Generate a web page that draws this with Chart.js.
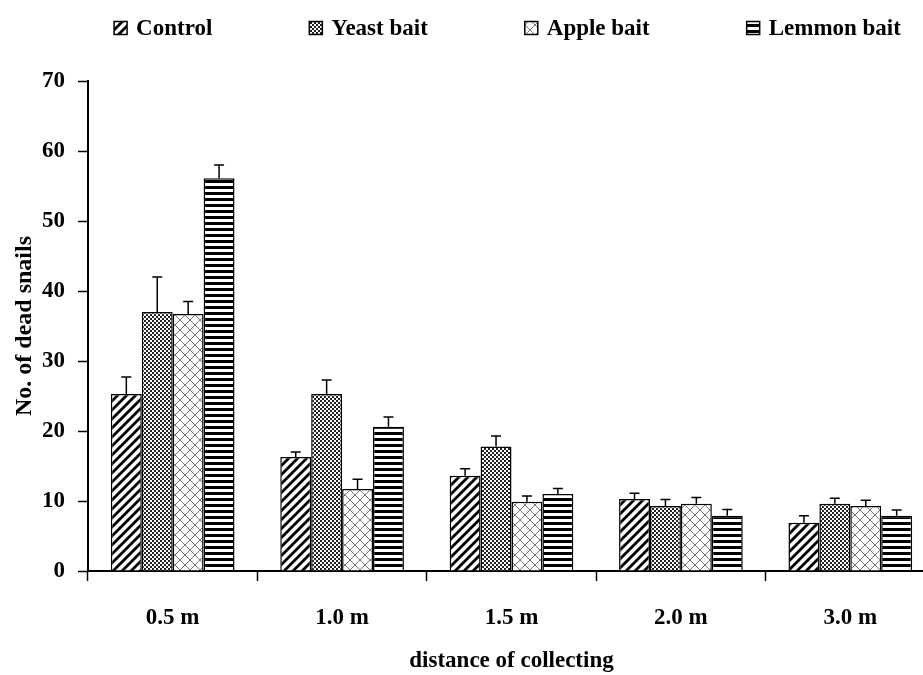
<!DOCTYPE html>
<html>
<head>
<meta charset="utf-8">
<script src="https://cdn.jsdelivr.net/npm/chart.js@4.4.1/dist/chart.umd.min.js"></script>
<style>
  html, body { margin: 0; padding: 0; background: #fff; overflow: hidden; }
  #wrap { width: 935px; height: 675px; }
</style>
</head>
<body>
<div id="wrap"><canvas id="grafico" width="935" height="675"></canvas></div>
<script>
// DATOS
var distancias = ['0.5 m', '1.0 m', '1.5 m', '2.0 m', '3.0 m'];
var control = [25.3, 16.3, 13.6, 10.3, 6.9];
var levadura = [37.0, 25.3, 17.8, 9.3, 9.6];
var manzana = [36.7, 11.7, 9.9, 9.6, 9.3];
var limon = [56.1, 20.6, 11.0, 7.9, 7.9];
var errControl = [2.4, 0.7, 1.0, 0.8, 1.0];
var errLevadura = [5.0, 2.0, 1.5, 0.9, 0.8];
var errManzana = [1.8, 1.4, 0.8, 0.9, 0.8];
var errLimon = [1.9, 1.4, 0.8, 0.9, 0.8];
var nombres = ['Control', 'Yeast bait', 'Apple bait', 'Lemmon bait'];

var fuente = '"Liberation Serif", "Times New Roman", serif';

// PATRONES DE RELLENO
function tile(w, h, dibujar) {
    var c = document.createElement('canvas');
    c.width = w; c.height = h;
    var g = c.getContext('2d');
    g.fillStyle = '#fff';
    g.fillRect(0, 0, w, h);
    dibujar(g);
    return document.createElement('canvas').getContext('2d').createPattern(c, 'repeat');
}

var patronControl = tile(9, 9, function (g) {
    g.strokeStyle = '#000';
    g.lineWidth = 2.8;
    g.beginPath();
    g.moveTo(-2, 11); g.lineTo(11, -2);
    g.moveTo(-6, 6); g.lineTo(6, -6);
    g.moveTo(3, 15); g.lineTo(15, 3);
    g.stroke();
});
var patronLevadura = tile(4, 4, function (g) {
    g.fillStyle = '#222';
    g.fillRect(0, 0, 2, 2);
    g.fillRect(2, 2, 2, 2);
});
var patronManzana = tile(10, 10, function (g) {
    g.strokeStyle = '#777';
    g.lineWidth = 1;
    g.beginPath();
    g.moveTo(0, 0); g.lineTo(10, 10);
    g.moveTo(10, 0); g.lineTo(0, 10);
    g.stroke();
});
var patronLimon = tile(6, 6, function (g) {
    g.fillStyle = '#000';
    g.fillRect(0, 0, 6, 3);
});
var patrones = [patronControl, patronLevadura, patronManzana, patronLimon];
var errores = [errControl, errLevadura, errManzana, errLimon];

// BARRAS DE ERROR (solo hacia arriba)
var barrasError = {
    id: 'barrasError',
    afterDatasetsDraw: function (chart) {
        var ctx = chart.ctx;
        var y = chart.scales.y;
        ctx.save();
        ctx.strokeStyle = '#000';
        ctx.lineWidth = 1.5;
        chart.data.datasets.forEach(function (ds, i) {
            var meta = chart.getDatasetMeta(i);
            meta.data.forEach(function (bar, j) {
                var yTop = y.getPixelForValue(ds.data[j] + errores[i][j]);
                ctx.beginPath();
                ctx.moveTo(bar.x, bar.y);
                ctx.lineTo(bar.x, yTop);
                ctx.moveTo(bar.x - 5, yTop);
                ctx.lineTo(bar.x + 5, yTop);
                ctx.stroke();
            });
        });
        ctx.restore();
    }
};

// LEYENDA
var leyenda = {
    id: 'leyenda',
    afterDraw: function (chart) {
        var ctx = chart.ctx;
        var area = chart.chartArea;
        ctx.save();
        ctx.font = 'bold 23px ' + fuente;
        var caja = 13, sep = 9, hueco = 97;
        var anchos = nombres.map(function (n) { return caja + sep + ctx.measureText(n).width; });
        var total = anchos.reduce(function (a, b) { return a + b; }, 0) + hueco * (nombres.length - 1);
        var x = (area.left + area.right) / 2 - 4 - total / 2;
        var yc = 28;
        nombres.forEach(function (n, i) {
            ctx.fillStyle = patrones[i];
            ctx.fillRect(x, yc - caja / 2, caja, caja);
            ctx.strokeStyle = '#000';
            ctx.lineWidth = 1.5;
            ctx.strokeRect(x, yc - caja / 2, caja, caja);
            ctx.fillStyle = '#000';
            ctx.textBaseline = 'middle';
            ctx.textAlign = 'left';
            ctx.fillText(n, x + caja + sep, yc + 1);
            x += anchos[i] + hueco;
        });
        ctx.restore();
    }
};

var series = [control, levadura, manzana, limon].map(function (d, i) {
    return {
        label: nombres[i],
        data: d,
        backgroundColor: patrones[i],
        borderColor: '#000',
        borderWidth: 1.5,
        borderSkipped: 'bottom',
        categoryPercentage: 0.73,
        barPercentage: 1.0
    };
});

var grafico = new Chart(document.getElementById('grafico').getContext('2d'), {
    type: 'bar',
    data: { labels: distancias, datasets: series },
    options: {
        responsive: false,
        animation: false,
        layout: { padding: { top: 81, right: 0, left: 0, bottom: 0 } },
        plugins: { legend: { display: false }, tooltip: { enabled: false } },
        scales: {
            x: {
                grid: { drawOnChartArea: false, drawTicks: true, tickLength: 10, color: '#000', tickWidth: 1.5, offset: true },
                border: { color: '#000', width: 2 },
                ticks: { color: '#000', padding: 23, font: { family: fuente, size: 23, weight: 'bold' } },
                title: { display: true, text: 'distance of collecting', color: '#000', padding: 0,
                         font: { family: fuente, size: 23, weight: 'bold' } },
                afterFit: function (s) { s.height = 104; }
            },
            y: {
                min: 0, max: 70,
                ticks: { stepSize: 10, color: '#000', padding: 13, font: { family: fuente, size: 23, weight: 'bold' } },
                grid: { drawOnChartArea: false, drawTicks: true, tickLength: 10, color: '#000', tickWidth: 1.5 },
                border: { color: '#000', width: 2 },
                title: { display: true, text: 'No. of dead snails', color: '#000', padding: { top: 10, bottom: 0 },
                         font: { family: fuente, size: 24, weight: 'bold' } },
                afterFit: function (s) { s.width = 88; }
            }
        }
    },
    plugins: [barrasError, leyenda]
});
</script>
</body>
</html>
